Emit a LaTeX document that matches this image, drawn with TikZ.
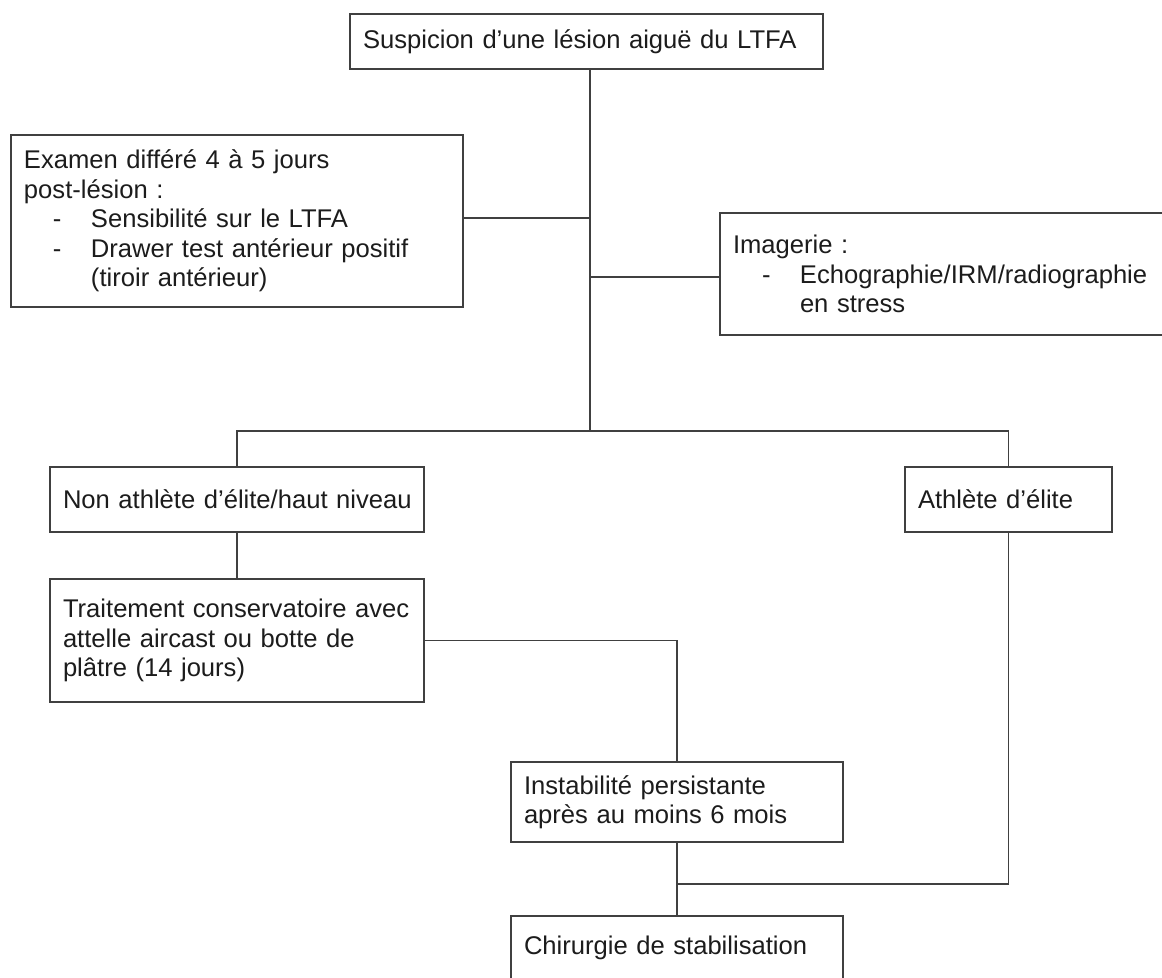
\documentclass[tikz,border=0pt]{standalone}
\usepackage{fontspec}
\setmainfont{Liberation Sans}
\definecolor{gris}{HTML}{404040}
\definecolor{encre}{HTML}{1C1C1C}
\newcommand{\puce}[1]{\hspace*{14.5pt}\makebox[19pt][l]{-}#1}
\newcommand{\suite}[1]{\hspace*{33.5pt}#1}
\begin{document}
\begin{tikzpicture}[x=0.5pt, y=-0.5pt,
  boite/.style={rectangle, draw=gris, line width=0.75pt, align=left, inner xsep=6.5pt, inner ysep=0pt, text=encre, font=\fontsize{12.8pt}{14.75pt}\selectfont},
  lien/.style={draw=gris, line width=0.75pt}]
  \useasboundingbox (0,0) rectangle (1162,978);
  \clip (0,0) rectangle (1162,978);
  \fill[white] (0,0) rectangle (1162,978);
  \node[boite, minimum width=236.5pt, minimum height=27.5pt, text width=223.5pt] (1) at (586.5, 41.5) {\mbox{Suspicion d’une lésion aiguë du LTFA}};
  \node[boite, minimum width=226pt, minimum height=86pt, text width=213pt] (2) at (237, 221) {Examen différé 4 à 5 jours\\post-lésion :\\\puce{Sensibilité sur le LTFA}\\\puce{Drawer test antérieur positif}\\\suite{(tiroir antérieur)}};
  \node[boite, minimum width=235pt, minimum height=61pt, text width=222pt] (3) at (955, 274) {Imagerie :\\\puce{Echographie/IRM/radiographie}\\\suite{en stress}};
  \node[boite, minimum width=187pt, minimum height=32.5pt, text width=174pt] (4) at (237, 499.5) {\mbox{Non athlète d’élite/haut niveau}};
  \node[boite, minimum width=103.5pt, minimum height=32.5pt, text width=90.5pt] (5) at (1008.5, 499.5) {Athlète d’élite};
  \node[boite, minimum width=187pt, minimum height=61.5pt, text width=174pt] (6) at (237, 640.5) {\mbox{Traitement conservatoire avec}\\attelle aircast ou botte de\\plâtre (14 jours)};
  \node[boite, minimum width=166pt, minimum height=40pt, text width=153pt] (7) at (677, 802) {Instabilité persistante\\après au moins 6 mois};
  \node[boite, minimum width=166pt, minimum height=32pt, text width=153pt] (8) at (677, 948) {Chirurgie de stabilisation};
  \coordinate (t) at (590, 431);
  \coordinate (j) at (677, 884);
  \draw[lien] (1.south -| t) -- (t);
  \draw[lien] ([yshift=1.5pt]2.east) -- ([yshift=1.5pt]2.east -| t);
  \draw[lien] ([yshift=-1.5pt]3.west) -- ([yshift=-1.5pt]3.west -| t);
  \draw[lien] (4.north) |- (t) -| (5.north);
  \draw[lien] (4) -- (6);
  \draw[lien] (6.east) -| (7.north);
  \draw[lien] (5.south) |- (j);
  \draw[lien] (7) -- (8);
\end{tikzpicture}
\end{document}
